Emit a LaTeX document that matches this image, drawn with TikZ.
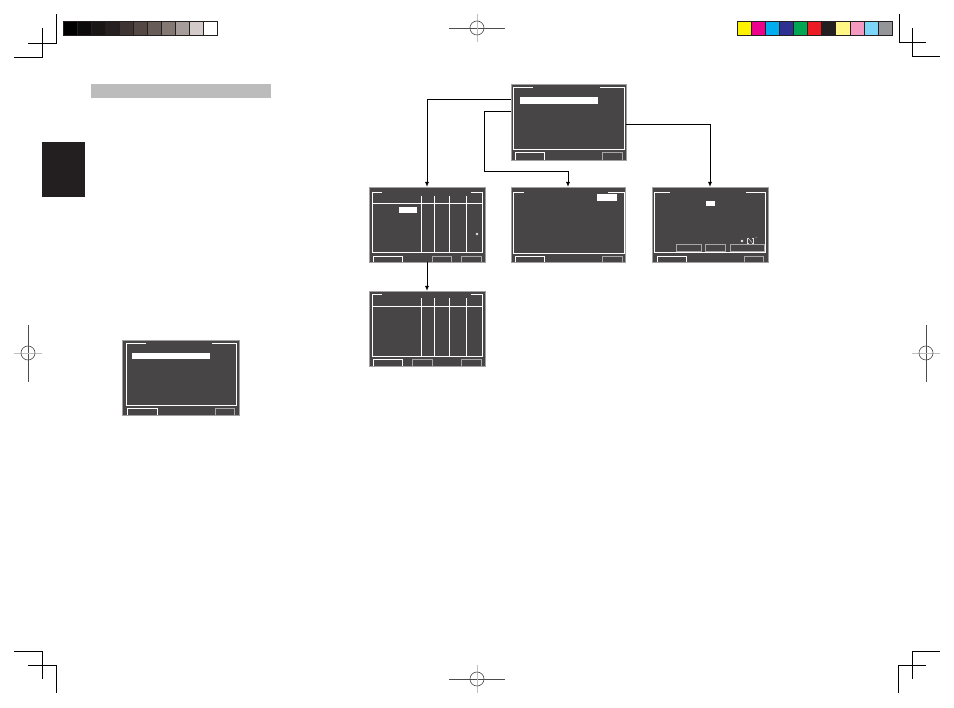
\documentclass[tikz,border=0pt]{standalone}
\usetikzlibrary{arrows.meta}
\definecolor{scr}{HTML}{474545}
\definecolor{scrborder}{HTML}{A0A0A0}
\definecolor{btngray}{HTML}{A8A8A8}
\definecolor{tabblack}{HTML}{231F20}
\definecolor{graybar}{HTML}{BCBCBC}
\begin{document}
\begin{tikzpicture}[x=1pt,y=-1pt,
  crop/.style={line width=0.8pt,black},
  regdark/.style={line width=0.6pt,black!70},
  reglight/.style={line width=0.6pt,black!25},
  screen/.style={rectangle,fill=scr,draw=scrborder,line width=0.8pt,inner sep=0pt,outer sep=0pt},
  frame/.style={white,line width=0.9pt},
  wbtn/.style={white,line width=0.8pt},
  gbtn/.style={btngray,line width=0.8pt},
  conn/.style={line width=1pt,black,-{Latex[length=5pt,width=4pt]}}]
\useasboundingbox (0,0) rectangle (954,708);
\fill[white] (0,0) rectangle (954,708);
% crop marks
\draw[crop] (28,43) -- (56,43) -- (56,14);
\draw[crop] (14,57) -- (42,57) -- (42,28);
\draw[crop] (899,14) -- (899,42) -- (926,42);
\draw[crop] (912,28) -- (912,56) -- (940,56);
\draw[crop] (14,651) -- (42,651) -- (42,679);
\draw[crop] (28,665) -- (56,665) -- (56,693);
\draw[crop] (940,651) -- (912,651) -- (912,679);
\draw[crop] (926,665) -- (898,665) -- (898,693);
% registration marks
\draw[regdark] (449,28) -- (505,28); \draw[reglight] (477,14) -- (477,42); \draw[regdark] (477,28) circle (7);
\draw[regdark] (449,679) -- (505,679); \draw[reglight] (477,665) -- (477,693); \draw[regdark] (477,679) circle (7);
\draw[regdark] (28,325) -- (28,382); \draw[reglight] (14,353) -- (42,353); \draw[regdark] (28,353) circle (7);
\draw[regdark] (926,325) -- (926,382); \draw[reglight] (912,353) -- (940,353); \draw[regdark] (926,353) circle (7);
% color bars
\foreach \c [count=\i from 0] in {000000,0D0B0B,1A1615,262120,3E3433,544845,685C59,847874,A69D9A,D3CBCA,FFFFFF}{
  \definecolor{tmp}{HTML}{\c}
  \fill[tmp] (63+\i*14,21) rectangle (77+\i*14,35);
}
\draw[line width=0.7pt,tabblack] (63,21) rectangle (217,35);
\foreach \i in {1,...,10} \draw[line width=0.5pt,tabblack] (63+\i*14,21) -- (63+\i*14,35);
\foreach \c [count=\i from 0] in {FFF200,EC008C,00AEEF,2E3192,00A651,ED1C24,231F20,FFF685,F49AC1,7DD5F7,939598}{
  \definecolor{tmp}{HTML}{\c}
  \fill[tmp] (737+\i*14.1,21) rectangle (751.1+\i*14.1,35);
}
\draw[line width=0.7pt,tabblack] (737,21) rectangle (892,35);
\foreach \i in {1,...,10} \draw[line width=0.5pt,tabblack] (737+\i*14.1,21) -- (737+\i*14.1,35);
% gray header bar and black tab
\fill[graybar] (91,84) rectangle (271,98);
\fill[tabblack] (42,142) rectangle (85,197);
% screens
\node[screen,minimum width=115pt,minimum height=76pt] (s0) at (568.5,122) {};
\node[screen,minimum width=116pt,minimum height=75pt] (s1) at (427,224.5) {};
\node[screen,minimum width=114pt,minimum height=75pt] (s2) at (568,224.5) {};
\node[screen,minimum width=116pt,minimum height=75pt] (s3) at (710,224.5) {};
\node[screen,minimum width=116pt,minimum height=75pt] (s4) at (427,328.5) {};
\node[screen,minimum width=117pt,minimum height=75pt] (sL) at (180.5,377.5) {};
% s0 internals
\draw[frame] (600,87) -- (624,87) -- (624,149) -- (513,149) -- (513,87) -- (533,87);
\fill[white] (520,97) rectangle (598,104);
\draw[wbtn] (515,160) -- (515,152) -- (544,152) -- (544,160);
\draw[gbtn] (602,160) -- (602,152) -- (622,152) -- (622,160);
% s1 internals
\draw[frame] (471,192) -- (482,192) -- (482,252) -- (372,252) -- (372,192) -- (382,192);
\draw[frame] (372,203) -- (482,203);
\foreach \x in {421,434,449,466} \draw[frame] (\x,196) -- (\x,252);
\fill[white] (399,207) rectangle (417,213);
\fill[white!80!gray] (477,234) circle (1.3);
\draw[wbtn] (373,262) -- (373,256) -- (402,256) -- (402,262);
\draw[gbtn] (432,262) -- (432,256) -- (451,256) -- (451,262);
\draw[gbtn] (461,262) -- (461,256) -- (481,256) -- (481,262);
% s2 internals
\draw[frame] (608,192) -- (624,192) -- (624,253) -- (513,253) -- (513,192) -- (524,192);
\fill[white] (597,194) rectangle (617,201);
\draw[wbtn] (515,262) -- (515,256) -- (544,256) -- (544,262);
\draw[gbtn] (602,262) -- (602,256) -- (622,256) -- (622,262);
% s3 internals
\draw[frame] (746,192) -- (765,192) -- (765,252) -- (654,252) -- (654,192) -- (670,192);
\fill[white] (706,201) rectangle (715,206);
\draw[gbtn] (676,244) rectangle (701,251);
\draw[gbtn] (705,244) rectangle (725,251);
\draw[gbtn] (730,244) rectangle (764,251);
\fill[white!85!gray] (742,241) circle (1.3);
\draw[white!75!gray,line width=0.4pt] (748.5,238) -- (747.5,238) -- (747.5,243) -- (748.5,243);
\draw[white!75!gray,line width=0.4pt] (748.5,238.5) -- (752,242.5);
\draw[white!75!gray,line width=0.4pt] (752,238) -- (753,238) -- (753,243) -- (752,243);
\fill[white!60!gray] (756,237.5) circle (0.5);
\draw[wbtn] (657,262) -- (657,256) -- (686,256) -- (686,262);
\draw[gbtn] (744,262) -- (744,256) -- (763,256) -- (763,262);
% s4 internals
\draw[frame] (471,294) -- (482,294) -- (482,356) -- (372,356) -- (372,294) -- (382,294);
\draw[frame] (372,306) -- (482,306);
\foreach \x in {421,434,449,466} \draw[frame] (\x,298) -- (\x,356);
\draw[wbtn] (373,366) -- (373,359) -- (402,359) -- (402,366);
\draw[gbtn] (412,366) -- (412,359) -- (432,359) -- (432,366);
\draw[gbtn] (461,366) -- (461,359) -- (481,359) -- (481,366);
% sL internals
\draw[frame] (212,343) -- (236,343) -- (236,405) -- (126,405) -- (126,343) -- (146,343);
\fill[white] (132,353) rectangle (210,359);
\draw[wbtn] (127,415) -- (127,408) -- (157,408) -- (157,415);
\draw[gbtn] (215,415) -- (215,408) -- (234,408) -- (234,415);
% connectors
\coordinate (k1) at (484,172);
\draw[conn] ([yshift=22pt]s0.west) -| (s1.north);
\draw[conn] ([yshift=10pt]s0.west) -| (k1) -| (s2.north);
\draw[conn] ([yshift=-3pt]s0.east) -| (s3.north);
\draw[conn] (s1.south) -- (s4.north);
\end{tikzpicture}
\end{document}
